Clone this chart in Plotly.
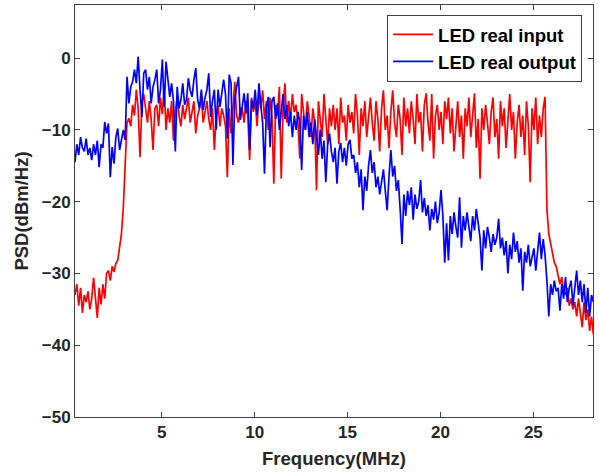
import numpy as np
import plotly.graph_objects as go

# Frequency grid (MHz): PSD bins every 0.1 MHz starting at 0.33 MHz
freq_start = 0.33
freq_step = 0.1
n_bins = 280
freq = np.round(freq_start + freq_step * np.arange(n_bins), 2)

# LED real input PSD (dBm/Hz), one row per MHz
led_input = [
    -33, -31.5, -34.5, -32, -35.5, -33, -34, -32.5, -35, -33.5,
    -30.6, -34, -36.2, -32, -34.3, -31.5, -33.5, -30, -29.6, -31,
    -29, -29.8, -28.6, -28.2, -26.5, -24.5, -20.8, -14.5, -9, -8.4,
    -9.5, -6.5, -8, -4.4, -7, -13.8, -6.2, -5, -7.5, -9,
    -6, -8.5, -12.8, -7, -6.5, -9.5, -5.5, -7.8, -4, -10,
    -7, -9, -6, -11.5, -7.5, -5.5, -8, -9.5, -6.5, -8.5,
    -7, -5.5, -9, -7.5, -6, -10.5, -8, -7, -5.5, -9,
    -7.5, -6, -8.5, -10, -7, -12.8, -8, -6.5, -9.5, -7,
    -8, -9.5, -16.6, -7, -10.5, -6.5, -3.3, -8, -9, -7,
    -7, -9, -6, -8, -14.2, -5.5, -7.5, -6, -9.5, -5,
    -7, -4.5, -8.5, -6, -10, -5.5, -8, -17.5, -6.5, -8,
    -4, -16.8, -7, -3.5, -9, -6, -8.5, -5, -7.5, -6.5,
    -9, -14, -5, -7.5, -10, -6, -8, -11, -7, -9,
    -18.4, -6, -8.5, -11, -5, -9, -12, -7, -9.5, -6.5,
    -10, -7, -12, -5.5, -9, -8, -11.5, -6.5, -9, -7.5,
    -10.5, -5, -8, -13.5, -7, -9.5, -6, -11, -8.5, -5.5,
    -9, -11.5, -6, -8.5, -13, -7, -4.5, -10, -8, -12.5,
    -7.5, -4.5, -9, -11, -6.5, -8.5, -13.5, -5.5, -9.5, -7,
    -10.5, -6, -8.5, -12, -5, -9, -7.5, -13, -6.5, -4.9,
    -9, -11.5, -5, -14, -8, -6.5, -10, -7.5, -12, -6,
    -8.5, -5.5, -10.5, -7, -13, -9, -6, -11, -8, -14,
    -7, -9.5, -5.5, -11, -8, -4.9, -12.5, -8.5, -16.8, -7,
    -10, -6.5, -9, -12, -7.5, -5.5, -11, -8.5, -14, -6,
    -9.5, -7, -12.5, -8, -5, -10, -7.5, -14, -9, -6.5,
    -11, -8, -13.5, -6, -9.5, -17.3, -7, -10, -5.5, -12,
    -8, -11, -7, -5.4, -21, -24.5, -26, -27.5, -28.5, -29,
    -30.5, -31.5, -30.5, -32.5, -33, -32, -34.5, -33.5, -35, -34,
    -36, -33.5, -35.5, -37.5, -34, -36.5, -35, -38, -36, -38.5,
]

# LED real output PSD (dBm/Hz), one row per MHz
led_output = [
    -14.5, -12, -13.5, -11, -12.5, -13, -11.2, -13.5, -12.5, -14.2,
    -12, -13.5, -11.5, -15.2, -12, -12.5, -8.9, -10.5, -9.1, -16.6,
    -12.4, -14.7, -11, -9.8, -12.8, -11.5, -10, -11.4, -2.6, -6.3,
    -4, -3.3, -1.6, -3.5, 0.2, -4.4, -8.2, -2.1, -1.6, -4.4,
    -2.6, -6.3, -4, -3, -1.6, -6.3, -4.4, -0.2, -6.8, -0.5,
    -2.6, -5.4, -3.5, -6, -13, -4, -7, -5.8, -3.5, -6.5,
    -5.8, -2.8, -4.5, -5.4, -3, -1.4, -5.8, -7, -4.4, -7.2,
    -5.5, -4.4, -2.1, -8.2, -6, -4.4, -10, -4.4, -6.8, -5,
    -3, -5, -11.2, -2.3, -3.5, -14.9, -5.8, -4, -2.6, -8.6,
    -6.3, -4.9, -7.7, -4.9, -12.8, -5.8, -7, -4.4, -8, -3.5,
    -6.5, -9, -16.1, -7, -5.4, -12.4, -6, -5.4, -8.5, -6.3,
    -10, -7, -5, -8.5, -6.5, -9.5, -7.5, -11, -8, -10,
    -7.5, -9, -15.6, -8, -10, -7.5, -11, -9, -12, -8.5,
    -11, -13.5, -10, -14, -11.5, -17.3, -12, -10.5, -13, -14.5,
    -12.5, -17.5, -13, -11.8, -14.5, -12.5, -15, -12, -11.4, -14,
    -13.5, -16, -14.5, -18, -15.5, -21.2, -16.5, -18.5, -15, -12.8,
    -16, -14.5, -18, -16.5, -19, -17, -15.5, -18.5, -21.2, -16.5,
    -12.8, -16.5, -15, -18.5, -17, -21, -25.9, -19, -22, -18.5,
    -20.5, -18, -22.5, -19, -21, -20, -17, -21.5, -19.5, -22,
    -20.5, -24, -21, -22.5, -20, -23, -21.5, -18.4, -22, -28.5,
    -23, -28.2, -22, -24.5, -21.5, -23.5, -25, -19.4, -26.4, -22,
    -24, -21.5, -23.5, -25.5, -22, -24, -21, -23.5, -25, -29.6,
    -24, -26.5, -23.5, -25, -27, -24.5, -26, -25, -22.4, -26.5,
    -25, -27.5, -25.5, -30, -26, -28, -24.3, -27, -25.5, -28.5,
    -26.5, -32.4, -27, -28.5, -26, -29, -27.5, -26.5, -29.6, -27,
    -24.3, -28, -25.2, -27.5, -31, -36, -31.5, -33, -31, -32.5,
    -32, -35.2, -31.5, -33.5, -30.5, -34, -32, -31, -34.5, -32,
    -29.6, -33, -31, -34, -31.5, -35.5, -32, -36, -33, -34,
]

series_names = ["LED real input", "LED real output"]
series_colors = ["#ff0000", "#0000ff"]

x_ticks = [5, 10, 15, 20, 25]
y_ticks = [-50, -40, -30, -20, -10, 0]

fig = go.Figure()
for name, vals, col in zip(series_names, [led_input, led_output], series_colors):
    fig.add_trace(go.Scatter(
        x=freq, y=vals, mode="lines", name=name,
        line=dict(color=col, width=1.7),
    ))

axis_common = dict(
    showline=True, mirror="ticks", linecolor="#404040", linewidth=1,
    ticks="inside", ticklen=5, tickwidth=1, tickcolor="#404040",
    showgrid=False, zeroline=False,
    tickfont=dict(family="Liberation Sans", size=17, color="#262626", weight="bold"),
)

fig.update_layout(
    width=599, height=474,
    margin=dict(l=75, r=6, t=5, b=57),
    paper_bgcolor="white", plot_bgcolor="white",
    font=dict(family="Liberation Sans", color="#262626", weight="bold"),
    xaxis=dict(
        range=[0.33, 28.21], tickvals=x_ticks,
        title=dict(text="Frequency(MHz)", standoff=10,
                   font=dict(family="Liberation Sans", size=18.5, color="#262626", weight="bold")),
        **axis_common,
    ),
    yaxis=dict(
        range=[-50, 7.4], tickvals=y_ticks,
        title=dict(text="PSD(dBm/Hz)", standoff=8,
                   font=dict(family="Liberation Sans", size=18.5, color="#262626", weight="bold")),
        **axis_common,
    ),
    legend=dict(
        x=0.979, y=0.976, xanchor="right", yanchor="top",
        bgcolor="white", bordercolor="#404040", borderwidth=1,
        font=dict(family="Liberation Sans", size=18.5, color="black", weight="bold"),
        tracegroupgap=0, itemwidth=40,
    ),
    showlegend=True,
)

fig.write_html("out.html")
